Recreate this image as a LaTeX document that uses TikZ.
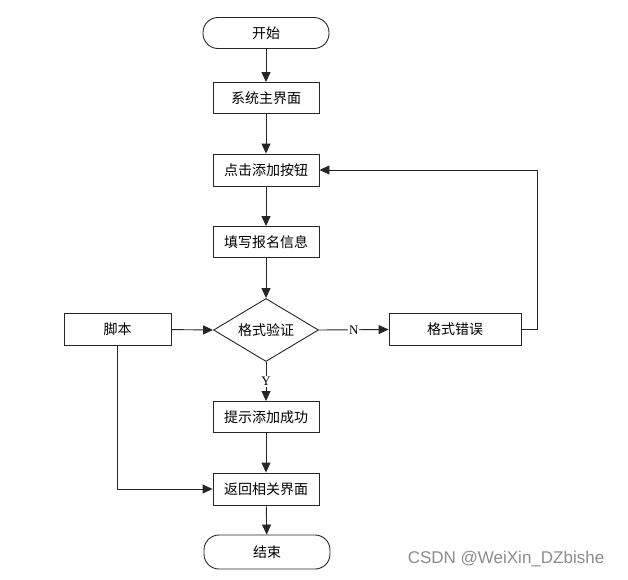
\documentclass[tikz,border=0pt]{standalone}
\usepackage{fontspec}
\setmainfont{Liberation Serif}
\newfontfamily\cjk{Noto Sans CJK SC}
\newfontfamily\wmfont{Liberation Sans}
\usetikzlibrary{shapes.geometric,arrows.meta}

\tikzset{
  box/.style={draw=black!85, line width=.9pt, fill=white, minimum width=106pt,
    minimum height=31pt, inner sep=0pt, font=\cjk\fontsize{14}{14}\selectfont},
  term/.style={box, minimum width=126pt, rounded corners=15pt},
  cond/.style={box, diamond, aspect=1.67, minimum width=105pt, minimum height=63pt},
  flow/.style={draw=black!85, line width=.9pt, -{Triangle[length=10pt,width=9pt]}},
  lab/.style={fill=white, inner sep=1pt, font=\fontsize{13}{13}\selectfont}
}

\begin{document}
\begin{tikzpicture}[x=1pt,y=-1pt]
\useasboundingbox (0,0) rectangle (628,579);

% main column
\node[term] (start) at (266,33) {开始};
\node[box] (home) at (266,98) {系统主界面};
\node[box, minimum height=32pt] (addbtn) at (266,170) {点击添加按钮};
\node[box] (fillin) at (266,242) {填写报名信息};
\node[cond] (check) at (266,330) {格式验证};
\node[box] (okmsg) at (266,417) {提示添加成功};
\node[box, minimum height=32pt] (back) at (266,489) {返回相关界面};
\node[term, minimum height=34pt] (stop) at (267,552) {结束};

% side boxes
\node[box, minimum width=107pt, minimum height=32pt] (script) at (117.5,329) {脚本};
\node[box, minimum width=132pt, minimum height=32pt] (err) at (455,329) {格式错误};

\draw[flow] (start) -- (home);
\draw[flow] (home) -- (addbtn);
\draw[flow] (addbtn) -- (fillin);
\draw[flow] (fillin) -- (check);
\draw[flow] (script) -- (check.west);
\draw[flow] (check.east) -- node[lab] {N} (err);
\draw[flow] (err.east) -- ++(16,0) |- (addbtn.east);
\draw[flow] (check.south) -- node[lab] {Y} (okmsg);
\draw[flow] (okmsg) -- (back);
\draw[flow] (script.south) |- (back.west);
\draw[flow] (back) -- (stop);

\node[text=black!45, font=\wmfont\fontsize{17}{17}\selectfont] (mark) at (506,559) {CSDN @WeiXin\_DZbishe};
\end{tikzpicture}
\end{document}
